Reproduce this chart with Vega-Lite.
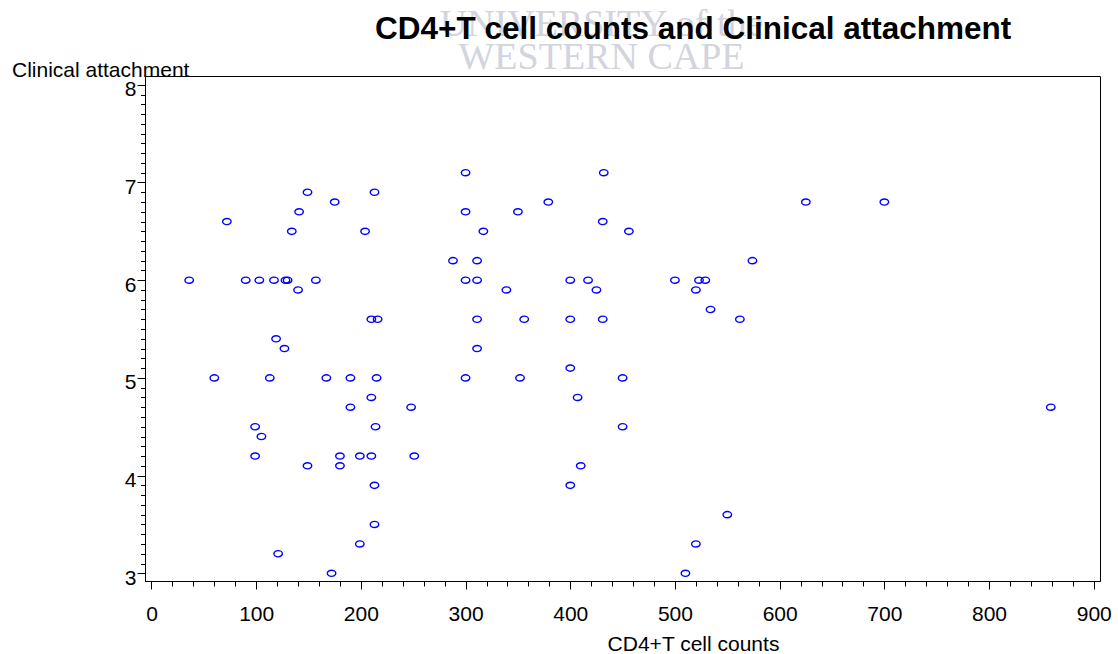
{
  "$schema": "https://vega.github.io/schema/vega-lite/v6.json",
  "width": 955,
  "height": 505,
  "autosize": {"type": "none"},
  "padding": {"left": 145, "top": 76, "right": 18, "bottom": 73},
  "background": "white",
  "config": {
    "view": {"stroke": "black", "strokeWidth": 1},
    "font": "Liberation Sans"
  },
  "title": {
    "text": "CD4+T cell counts and Clinical attachment",
    "anchor": "start",
    "frame": "group",
    "dx": 230,
    "offset": -65,
    "baseline": "alphabetic",
    "font": "Liberation Sans",
    "fontSize": 31.5,
    "fontWeight": "bold",
    "color": "black"
  },
  "data": {
    "values": [
      {"cd4": 300, "ca": 7.1}, {"cd4": 432, "ca": 7.1},
      {"cd4": 149, "ca": 6.9}, {"cd4": 213, "ca": 6.9},
      {"cd4": 175, "ca": 6.8}, {"cd4": 379, "ca": 6.8}, {"cd4": 625, "ca": 6.8}, {"cd4": 700, "ca": 6.8},
      {"cd4": 141, "ca": 6.7}, {"cd4": 300, "ca": 6.7}, {"cd4": 350, "ca": 6.7},
      {"cd4": 72, "ca": 6.6}, {"cd4": 431, "ca": 6.6},
      {"cd4": 134, "ca": 6.5}, {"cd4": 204, "ca": 6.5}, {"cd4": 317, "ca": 6.5}, {"cd4": 456, "ca": 6.5},
      {"cd4": 288, "ca": 6.2}, {"cd4": 311, "ca": 6.2}, {"cd4": 574, "ca": 6.2},
      {"cd4": 36, "ca": 6.0}, {"cd4": 90, "ca": 6.0}, {"cd4": 103, "ca": 6.0}, {"cd4": 117, "ca": 6.0},
      {"cd4": 128, "ca": 6.0}, {"cd4": 130, "ca": 6.0}, {"cd4": 157, "ca": 6.0}, {"cd4": 300, "ca": 6.0},
      {"cd4": 311, "ca": 6.0}, {"cd4": 400, "ca": 6.0}, {"cd4": 417, "ca": 6.0}, {"cd4": 500, "ca": 6.0},
      {"cd4": 523, "ca": 6.0}, {"cd4": 529, "ca": 6.0},
      {"cd4": 140, "ca": 5.9}, {"cd4": 339, "ca": 5.9}, {"cd4": 425, "ca": 5.9}, {"cd4": 520, "ca": 5.9},
      {"cd4": 534, "ca": 5.7},
      {"cd4": 210, "ca": 5.6}, {"cd4": 216, "ca": 5.6}, {"cd4": 311, "ca": 5.6}, {"cd4": 356, "ca": 5.6},
      {"cd4": 400, "ca": 5.6}, {"cd4": 431, "ca": 5.6}, {"cd4": 562, "ca": 5.6},
      {"cd4": 119, "ca": 5.4},
      {"cd4": 127, "ca": 5.3}, {"cd4": 311, "ca": 5.3},
      {"cd4": 400, "ca": 5.1},
      {"cd4": 60, "ca": 5.0}, {"cd4": 113, "ca": 5.0}, {"cd4": 167, "ca": 5.0}, {"cd4": 190, "ca": 5.0},
      {"cd4": 215, "ca": 5.0}, {"cd4": 300, "ca": 5.0}, {"cd4": 352, "ca": 5.0}, {"cd4": 450, "ca": 5.0},
      {"cd4": 210, "ca": 4.8}, {"cd4": 407, "ca": 4.8},
      {"cd4": 190, "ca": 4.7}, {"cd4": 248, "ca": 4.7}, {"cd4": 859, "ca": 4.7},
      {"cd4": 99, "ca": 4.5}, {"cd4": 214, "ca": 4.5}, {"cd4": 450, "ca": 4.5},
      {"cd4": 105, "ca": 4.4},
      {"cd4": 99, "ca": 4.2}, {"cd4": 180, "ca": 4.2}, {"cd4": 199, "ca": 4.2}, {"cd4": 210, "ca": 4.2},
      {"cd4": 251, "ca": 4.2},
      {"cd4": 149, "ca": 4.1}, {"cd4": 180, "ca": 4.1}, {"cd4": 410, "ca": 4.1},
      {"cd4": 213, "ca": 3.9}, {"cd4": 400, "ca": 3.9},
      {"cd4": 550, "ca": 3.6},
      {"cd4": 213, "ca": 3.5},
      {"cd4": 199, "ca": 3.3}, {"cd4": 520, "ca": 3.3},
      {"cd4": 121, "ca": 3.2},
      {"cd4": 172, "ca": 3.0}, {"cd4": 510, "ca": 3.0}
    ]
  },
  "layer": [
    {
      "mark": {"type": "point", "opacity": 0},
      "encoding": {
        "x": {
          "field": "cd4",
          "type": "quantitative",
          "scale": {"domain": [-6.2, 906], "nice": false, "zero": false},
          "axis": {
            "orient": "top",
            "grid": false,
            "domain": false,
            "labels": false,
            "ticks": false,
            "title": ["UNIVERSITY of the", "WESTERN CAPE"],
            "titleFont": "Liberation Serif",
            "titleFontSize": 38,
            "titleFontWeight": "normal",
            "titleColor": "#d2d4de",
            "titleLineHeight": 33,
            "titleAlign": "center",
            "titleBaseline": "alphabetic",
            "titleX": 456,
            "titleY": -41
          }
        },
        "y": {
          "field": "ca",
          "type": "quantitative",
          "scale": {"domain": [2.921, 8.09], "nice": false, "zero": false},
          "axis": null
        }
      }
    },
    {
      "mark": {"type": "point", "opacity": 0},
      "encoding": {
        "x": {
          "field": "cd4",
          "type": "quantitative",
          "scale": {"domain": [-6.2, 906], "nice": false, "zero": false},
          "axis": {
            "orient": "bottom",
            "values": [0, 20, 40, 60, 80, 100, 120, 140, 160, 180, 200, 220, 240, 260, 280, 300, 320, 340, 360, 380, 400, 420, 440, 460, 480, 500, 520, 540, 560, 580, 600, 620, 640, 660, 680, 700, 720, 740, 760, 780, 800, 820, 840, 860, 880, 900],
            "grid": false,
            "domain": false,
            "labels": false,
            "ticks": true,
            "tickSize": 5,
            "tickColor": "black",
            "tickWidth": 1,
            "title": null
          }
        },
        "y": {
          "field": "ca",
          "type": "quantitative",
          "scale": {"domain": [2.921, 8.09], "nice": false, "zero": false},
          "axis": {
            "orient": "left",
            "values": [3, 3.1, 3.2, 3.3, 3.4, 3.5, 3.6, 3.7, 3.8, 3.9, 4, 4.1, 4.2, 4.3, 4.4, 4.5, 4.6, 4.7, 4.8, 4.9, 5, 5.1, 5.2, 5.3, 5.4, 5.5, 5.6, 5.7, 5.8, 5.9, 6, 6.1, 6.2, 6.3, 6.4, 6.5, 6.6, 6.7, 6.8, 6.9, 7, 7.1, 7.2, 7.3, 7.4, 7.5, 7.6, 7.7, 7.8, 7.9, 8],
            "grid": false,
            "domain": false,
            "labels": false,
            "ticks": true,
            "tickSize": 4.5,
            "tickColor": "black",
            "tickWidth": 1,
            "title": null
          }
        }
      }
    },
    {
      "mark": {
        "type": "point",
        "shape": "M -1 0 A 1 0.73 0 1 1 1 0 A 1 0.73 0 1 1 -1 0 Z",
        "size": 72,
        "filled": false,
        "stroke": "#0000ff",
        "strokeWidth": 1.4,
        "opacity": 1
      },
      "encoding": {
        "x": {
          "field": "cd4",
          "type": "quantitative",
          "scale": {"domain": [-6.2, 906], "nice": false, "zero": false},
          "axis": {
            "orient": "bottom",
            "values": [0, 100, 200, 300, 400, 500, 600, 700, 800, 900],
            "format": "d",
            "grid": false,
            "domain": true,
            "domainColor": "black",
            "ticks": true,
            "tickSize": 8,
            "tickColor": "black",
            "tickWidth": 1,
            "labelFont": "Liberation Sans",
            "labelFontSize": 21,
            "labelColor": "black",
            "labelBaseline": "alphabetic",
            "labelPadding": 31,
            "labelFlush": false,
            "labelOverlap": false,
            "title": "CD4+T cell counts",
            "titleFont": "Liberation Sans",
            "titleFontSize": 21,
            "titleFontWeight": "normal",
            "titleColor": "black",
            "titleX": 548,
            "titleY": 69,
            "titleAlign": "center",
            "titleBaseline": "alphabetic"
          }
        },
        "y": {
          "field": "ca",
          "type": "quantitative",
          "scale": {"domain": [2.921, 8.09], "nice": false, "zero": false},
          "axis": {
            "orient": "left",
            "values": [3, 4, 5, 6, 7, 8],
            "format": "d",
            "grid": false,
            "domain": true,
            "domainColor": "black",
            "ticks": true,
            "tickSize": 8,
            "tickColor": "black",
            "tickWidth": 1,
            "labelFont": "Liberation Sans",
            "labelFontSize": 21,
            "labelColor": "black",
            "labelBaseline": "middle",
            "labelOffset": 5,
            "labelPadding": 1,
            "labelFlush": false,
            "labelOverlap": false,
            "title": "Clinical attachment",
            "titleFont": "Liberation Sans",
            "titleFontSize": 21,
            "titleFontWeight": "normal",
            "titleColor": "black",
            "titleAngle": 0,
            "titleAlign": "left",
            "titleBaseline": "alphabetic",
            "titleX": -133.5,
            "titleY": 0
          }
        }
      }
    }
  ],
  "resolve": {"axis": {"x": "independent", "y": "independent"}}
}
